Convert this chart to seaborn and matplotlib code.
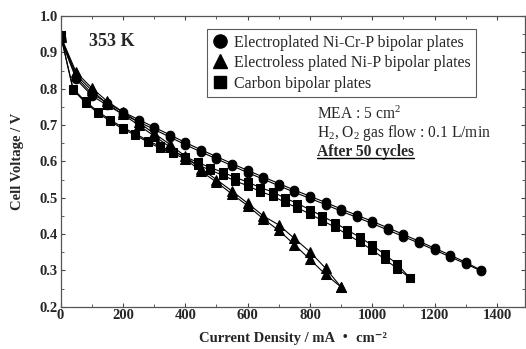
import numpy as np
import pandas as pd
import matplotlib
matplotlib.use("Agg")
import matplotlib.pyplot as plt
from matplotlib.lines import Line2D
import seaborn as sns

# ---------------- data ----------------
circ_x = [0, 50, 100, 150, 200, 250, 300, 350, 400, 450, 500, 550, 600, 650, 700,
          750, 800, 850, 900, 950, 1000, 1050, 1100, 1150, 1200, 1250, 1300, 1350]
circ_up = [0.940, 0.832, 0.787, 0.760, 0.736, 0.715, 0.694, 0.673, 0.652, 0.632, 0.613,
           0.594, 0.575, 0.557, 0.539, 0.521, 0.504, 0.487, 0.469, 0.452, 0.435, 0.417,
           0.399, 0.380, 0.361, 0.342, 0.322, 0.300]
circ_dn = [0.938, 0.826, 0.781, 0.754, 0.730, 0.709, 0.688, 0.667, 0.646, 0.626, 0.607,
           0.588, 0.569, 0.551, 0.533, 0.515, 0.498, 0.481, 0.463, 0.446, 0.429, 0.411,
           0.393, 0.375, 0.356, 0.337, 0.318, 0.298]

tri_x = [0, 50, 100, 150, 200, 250, 300, 350, 400, 450, 500, 550, 600, 650, 700,
         750, 800, 850, 900]
tri_up = [0.945, 0.845, 0.802, 0.765, 0.736, 0.707, 0.677, 0.647, 0.614, 0.580, 0.550,
          0.518, 0.485, 0.450, 0.425, 0.388, 0.351, 0.306, 0.254]
tri_dn = [0.943, 0.838, 0.795, 0.758, 0.729, 0.700, 0.670, 0.640, 0.607, 0.573, 0.543,
          0.510, 0.478, 0.442, 0.410, 0.371, 0.330, 0.289, 0.254]

sq_x = [0, 40, 80, 120, 160, 200, 240, 280, 320, 360, 400, 440, 480, 520, 560, 600,
        640, 680, 720, 760, 800, 840, 880, 920, 960, 1000, 1040, 1080, 1120]
sq_up = [0.948, 0.800, 0.765, 0.737, 0.714, 0.693, 0.676, 0.657, 0.641, 0.627, 0.613,
         0.597, 0.583, 0.570, 0.556, 0.543, 0.528, 0.516, 0.499, 0.484, 0.467, 0.449,
         0.431, 0.411, 0.391, 0.369, 0.344, 0.317, 0.280]
sq_dn = [0.948, 0.797, 0.761, 0.733, 0.710, 0.689, 0.672, 0.653, 0.636, 0.622, 0.607,
         0.590, 0.576, 0.562, 0.546, 0.533, 0.517, 0.505, 0.487, 0.472, 0.455, 0.437,
         0.419, 0.399, 0.378, 0.356, 0.331, 0.305, 0.280]

series_labels = ["Electroplated Ni-Cr-P bipolar plates",
                 "Electroless plated Ni-P bipolar plates",
                 "Carbon bipolar plates"]
x_ticks = [0, 200, 400, 600, 800, 1000, 1200, 1400]
y_ticks = [0.2, 0.3, 0.4, 0.5, 0.6, 0.7, 0.8, 0.9, 1.0]

# ---------------- style ----------------
sns.set_style("ticks")
FAM = ['Liberation Serif', 'Noto Sans CJK JP', 'DejaVu Sans']
plt.rcParams['font.family'] = FAM
plt.rcParams['mathtext.fontset'] = 'custom'
plt.rcParams['mathtext.rm'] = 'Liberation Serif'
plt.rcParams['mathtext.it'] = 'Liberation Serif:italic'
plt.rcParams['mathtext.bf'] = 'Liberation Serif:bold'

fig = plt.figure(figsize=(5.26, 3.49), dpi=100)
ax = fig.add_axes([60.6 / 526, 1 - 306.7 / 349, (525 - 60.6) / 526, (306.7 - 16) / 349])

def frame(x, y, name, sweep):
    return pd.DataFrame({"x": x, "y": y, "series": name, "sweep": sweep})

sets = [
    (circ_x, circ_up, circ_dn, 'o', 6.2),
    (tri_x, tri_up, tri_dn, '^', 6.5),
    (sq_x, sq_up, sq_dn, 's', 5.5),
]
for (xs, up, dn, mk, ms), name in zip(sets, series_labels):
    for sweep, ys in (("up", up), ("down", dn)):
        d = frame(xs, ys, name, sweep)
        sns.lineplot(data=d, x="x", y="y", ax=ax, color="black", marker=mk,
                     markersize=ms, markeredgecolor="black", linewidth=0.8,
                     estimator=None, sort=False, legend=False)

ax.set_xlim(0, 1490)
ax.set_ylim(0.2, 1.0)
ax.set_xticks(x_ticks)
ax.set_yticks(y_ticks)
ax.set_xticks(np.arange(100, 1500, 200), minor=True)
ax.set_yticks(np.arange(0.25, 1.0, 0.1), minor=True)
ax.set_xticklabels([str(t) for t in x_ticks], fontweight='bold', fontsize=10.5)
ax.set_yticklabels([f"{t:.1f}" for t in y_ticks], fontweight='bold', fontsize=10.5)
ax.tick_params(which='both', direction='in', top=True, right=True, color='#444444')
ax.tick_params(which='major', length=3, width=0.8, pad=2)
ax.tick_params(which='minor', length=2, width=0.6)
for s in ax.spines.values():
    s.set_color('#555555')
    s.set_linewidth(0.9)

ax.set_xlabel("Current Density / mA \u30fb cm\u207b\u00b2", fontweight='bold',
              fontsize=10.5, labelpad=7, family=FAM)
ax.set_ylabel("Cell Voltage / V", fontweight='bold', fontsize=10.5, labelpad=11)

ax.text(165, 0.931, "353 K", fontsize=13, fontweight='bold', ha='center', va='center')

handles = [Line2D([], [], marker=m, ls='none', color='black', markersize=s)
           for m, s in (('o', 9.5), ('^', 9.5), ('s', 9))]
leg = ax.legend(handles, series_labels, loc='upper left',
                bbox_to_anchor=((207 - 60.6) / (525 - 60.6), (306.7 - 29) / 290.7),
                borderaxespad=0, frameon=True, fancybox=False, fontsize=11.5,
                handlelength=0.9, handletextpad=0.45, labelspacing=0.28,
                borderpad=0.35)
leg.get_frame().set_edgecolor('#333333')
leg.get_frame().set_linewidth(0.8)

tx = (317 - 60.6) / (525 - 60.6)
ax.text(tx, (306.7 - 114) / 290.7, "MEA : 5 cm$^2$", transform=ax.transAxes,
        fontsize=11.2, va='center', ha='left')
ax.text(tx, (306.7 - 133) / 290.7, "H$_2$, O$_2$ gas flow : 0.1 L/min",
        transform=ax.transAxes, fontsize=11.2, va='center', ha='left')
t3 = ax.text(tx, (306.7 - 151.5) / 290.7, "After 50 cycles", transform=ax.transAxes,
             fontsize=11.2, fontweight='bold', va='center', ha='left')

fig.canvas.draw()
bb = t3.get_window_extent(renderer=fig.canvas.get_renderer())
inv = fig.transFigure.inverted()
(x0, y0), (x1, y1) = inv.transform([(bb.x0, bb.y0 + 1.5), (bb.x1, bb.y0 + 1.5)])
fig.add_artist(Line2D([x0, x1], [y0, y1], color='black', linewidth=1.0,
                      transform=fig.transFigure))

fig.savefig("out.png", dpi=100)
